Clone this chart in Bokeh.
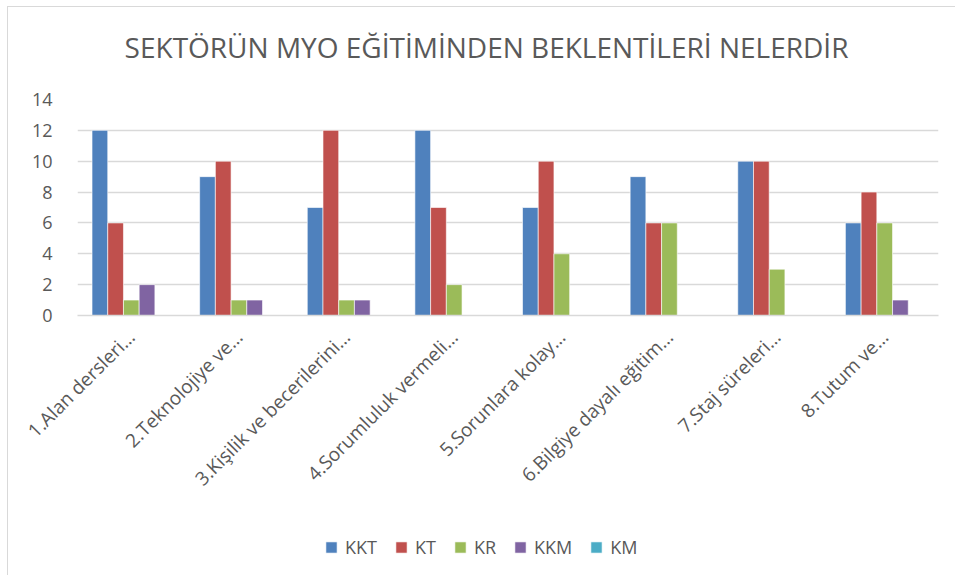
from bokeh.plotting import figure
from bokeh.models import (ColumnDataSource, FactorRange, Legend, LegendItem,
                          SingleIntervalTicker, Range1d, Label)
from bokeh.layouts import column
from bokeh.transform import dodge
from bokeh.embed import file_html
from bokeh.resources import INLINE
from math import pi

# ---- data ----
categories = [
    "1.Alan dersleri…",
    "2.Teknolojiye ve…",
    "3.Kişilik ve becerilerini…",
    "4.Sorumluluk vermeli…",
    "5.Sorunlara kolay…",
    "6.Bilgiye dayalı eğitim…",
    "7.Staj süreleri…",
    "8.Tutum ve…",
]
series_names = ["KKT", "KT", "KR", "KKM", "KM"]
kkt = [12, 9, 7, 12, 7, 9, 10, 6]
kt = [6, 10, 12, 7, 10, 6, 10, 8]
kr = [1, 1, 1, 2, 4, 6, 3, 6]
kkm = [2, 1, 1, 0, 0, 0, 0, 1]
km = [0, 0, 0, 0, 0, 0, 0, 0]
colors = ["#4F81BD", "#C0504D", "#9BBB59", "#8064A2", "#4BACC6"]
title_text = "SEKTÖRÜN MYO EĞİTİMİNDEN BEKLENTİLERİ NELERDİR"

source = ColumnDataSource(dict(cat=categories, KKT=kkt, KT=kt, KR=kr, KKM=kkm, KM=km))

FONT = "Open Sans"
TXT = "#595959"
GRID = "#d9d9d9"
W = 947


def strip(h):
    f = figure(width=W, height=h, output_backend="svg", toolbar_location=None,
               x_range=Range1d(0, 1), y_range=Range1d(0, 1),
               min_border=0, min_border_left=0, min_border_right=0,
               min_border_top=0, min_border_bottom=0)
    f.axis.visible = False
    f.grid.grid_line_color = None
    f.outline_line_color = None
    return f


# ---- title strip ----
p0 = strip(60)
p0.add_layout(Label(x=409, y=20.5, x_units="screen", y_units="screen",
                    text=title_text, text_font=FONT, text_font_size="28px",
                    text_color=TXT, text_align="center", text_baseline="middle"))

# ---- main chart ----
p = figure(
    x_range=FactorRange(*categories, range_padding=0),
    y_range=(0, 14),
    width=W, height=455,
    output_backend="svg", toolbar_location=None,
    min_border_left=69, min_border_right=17,
    min_border_top=32, min_border_bottom=207,
)

bw = 0.146
for i, (name, col) in enumerate(zip(series_names, colors)):
    off = (i - 2) * bw
    p.vbar(x=dodge("cat", off, range=p.x_range), top=name, width=bw,
           source=source, fill_color=col, line_color="white", line_width=0.6)

p.outline_line_color = None
p.xgrid.grid_line_color = None
p.ygrid.grid_line_color = GRID
p.ygrid.grid_line_width = 1.3

p.yaxis.ticker = SingleIntervalTicker(interval=2)
p.yaxis.axis_line_color = None
p.yaxis.major_tick_line_color = None
p.yaxis.minor_tick_line_color = None
p.yaxis.major_label_standoff = 19
p.yaxis.major_label_text_font = FONT
p.yaxis.major_label_text_font_size = "18px"
p.yaxis.major_label_text_color = TXT

p.xaxis.axis_line_color = GRID
p.xaxis.axis_line_width = 1.3
p.xaxis.major_tick_line_color = None
p.xaxis.minor_tick_line_color = None
p.xaxis.major_label_orientation = pi / 4
p.xaxis.major_label_standoff = 12
p.xaxis.major_label_text_font = FONT
p.xaxis.major_label_text_font_size = "19px"
p.xaxis.major_label_text_color = TXT

# ---- legend strip ----
p2 = strip(53)
items = []
for name, col in zip(series_names, colors):
    r = p2.vbar(x=[5], top=[0], width=0.1, fill_color=col, line_color="white", line_width=0.6)
    items.append(LegendItem(label=name, renderers=[r]))

legend = Legend(
    items=items, orientation="horizontal", location=(247, 16),
    glyph_width=14, glyph_height=14, label_standoff=7, spacing=17,
    label_text_font=FONT, label_text_font_size="18px", label_text_color=TXT,
    border_line_color=None, background_fill_alpha=0,
)
p2.add_layout(legend)

layout = column(p0, p, p2, spacing=0, styles={
    "margin-left": "7px", "margin-top": "6px",
    "border-left": "1px solid #d9d9d9", "border-top": "1px solid #d9d9d9",
})

open("out.html", "w").write(file_html(layout, INLINE))
